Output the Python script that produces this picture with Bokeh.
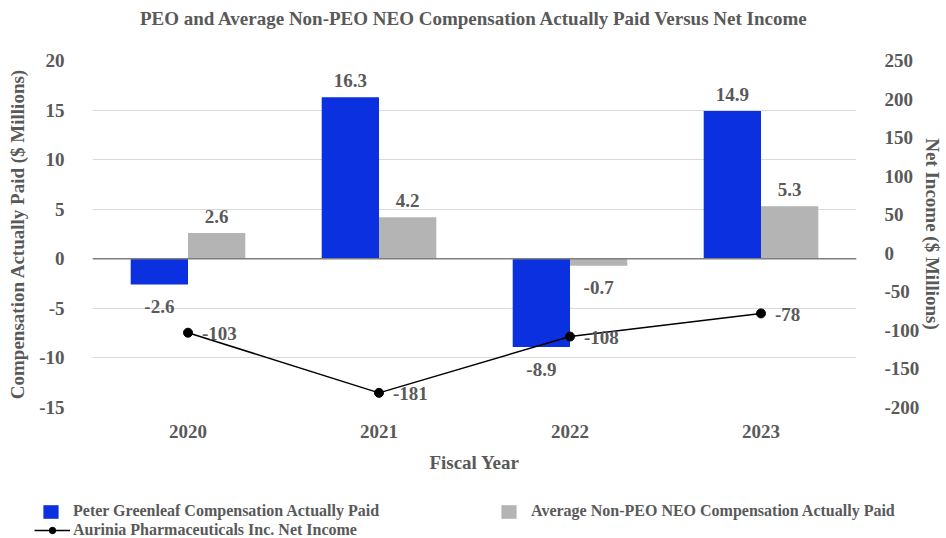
from bokeh.plotting import figure
from bokeh.models import (Range1d, LinearAxis, FactorRange, ColumnDataSource, Legend,
                          LegendItem, FixedTicker, Span, PrintfTickFormatter, Title)
from bokeh.transform import dodge
from bokeh.embed import file_html
from bokeh.resources import INLINE
from bokeh.core.properties import value

# ---------------- data ----------------
years = ["2020", "2021", "2022", "2023"]
peo_cap = [-2.6, 16.3, -8.9, 14.9]          # Peter Greenleaf CAP ($M)
neo_cap = [2.6, 4.2, -0.7, 5.3]             # Avg Non-PEO NEO CAP ($M)
net_income = [-103, -181, -108, -78]        # Net income ($M)
left_ticks = [-15, -10, -5, 0, 5, 10, 15, 20]
right_ticks = [-200, -150, -100, -50, 0, 50, 100, 150, 200, 250]

title_text = "PEO and Average Non-PEO NEO Compensation Actually Paid Versus Net Income"
peo_name = "Peter Greenleaf Compensation Actually Paid"
neo_name = "Average Non-PEO NEO Compensation Actually Paid"
ni_name = "Aurinia Pharmaceuticals Inc. Net Income"

# ---------------- style ----------------
FONT = "Liberation Serif"
TXT = "#595959"
BLUE = "#0B30E0"
GRAY = "#B4B4B4"
FS = "19px"

def lab_off(v):
    return -17 if v >= 0 else 22

src = ColumnDataSource(dict(
    year=years, peo=peo_cap, neo=neo_cap, ni=net_income,
    peo_lbl=[f"{v:.1f}" for v in peo_cap],
    neo_lbl=[f"{v:.1f}" for v in neo_cap],
    ni_lbl=[f"{v:d}" for v in net_income],
    peo_off=[lab_off(v) for v in peo_cap],
    neo_off=[lab_off(v) for v in neo_cap],
))

p = figure(width=946, height=480, x_range=FactorRange(*years), y_range=Range1d(-15, 20),
           output_backend="svg", toolbar_location=None, title=None,
           min_border_left=92, min_border_right=88, min_border_top=60, min_border_bottom=73)
p.extra_y_ranges = {"ni": Range1d(-200, 250)}
p.outline_line_color = None
p.background_fill_color = "white"
p.border_fill_color = "white"

# title (a blank spacer title sits between the frame and the real title)
spacer = Title(text=" ", text_font=FONT, text_font_size="22px", standoff=0)
p.add_layout(spacer, "above")
ttl = Title(text=title_text, align="center", text_font=FONT, text_font_size=FS,
            text_font_style="bold", text_color=TXT, standoff=10)
p.add_layout(ttl, "above")

# grid
p.xgrid.grid_line_color = None
p.ygrid.grid_line_color = "#D9D9D9"
p.ygrid.grid_line_width = 1

# axes
def style_axis(ax):
    ax.axis_line_color = None
    ax.major_tick_line_color = None
    ax.minor_tick_line_color = None
    ax.major_label_text_font = FONT
    ax.major_label_text_font_size = FS
    ax.major_label_text_font_style = "bold"
    ax.major_label_text_color = TXT
    ax.axis_label_text_font = FONT
    ax.axis_label_text_font_size = FS
    ax.axis_label_text_font_style = "bold"
    ax.axis_label_text_color = TXT

ya = p.yaxis[0]
style_axis(ya)
ya.ticker = FixedTicker(ticks=left_ticks)
ya.formatter = PrintfTickFormatter(format="%d")
ya.axis_label = "Compensation Actually Paid ($ Millions)"
ya.major_label_standoff = 22
ya.axis_label_standoff = 8

xa = p.xaxis[0]
style_axis(xa)
xa.axis_label = "Fiscal Year"
xa.major_label_standoff = 11
xa.axis_label_standoff = 11

ra = LinearAxis(y_range_name="ni", ticker=FixedTicker(ticks=right_ticks),
                formatter=PrintfTickFormatter(format="%d"),
                axis_label="Net Income ($ Millions)")
style_axis(ra)
ra.major_label_standoff = 22
ra.axis_label_standoff = 0
p.add_layout(ra, "right")

# zero line
p.add_layout(Span(location=0, dimension="width", line_color="#7F7F7F", line_width=1.5))

# bars
p.vbar(x=dodge("year", -0.15, range=p.x_range), top="peo", bottom=0, width=0.3,
       source=src, fill_color=BLUE, line_color=None)
p.vbar(x=dodge("year", 0.15, range=p.x_range), top="neo", bottom=0, width=0.3,
       source=src, fill_color=GRAY, line_color=None)

# line
p.line(x="year", y="ni", source=src, y_range_name="ni", line_color="black", line_width=1.5)
p.scatter(x="year", y="ni", source=src, y_range_name="ni", size=9,
          fill_color="black", line_color="black")

# data labels
common = dict(text_font=value(FONT), text_font_size=FS, text_font_style="bold",
              text_color=TXT)
p.text(x=dodge("year", -0.15, range=p.x_range), y="peo", text="peo_lbl", source=src,
       y_offset="peo_off", text_align="center", text_baseline="middle", **common)
p.text(x=dodge("year", 0.15, range=p.x_range), y="neo", text="neo_lbl", source=src,
       y_offset="neo_off", text_align="center", text_baseline="middle", **common)
p.text(x="year", y="ni", text="ni_lbl", source=src, y_range_name="ni",
       x_offset=14, y_offset=1, text_align="left", text_baseline="middle", **common)

# ---------------- legend strip (separate root below the chart) ----------------
lf = figure(width=946, height=58, x_range=Range1d(0, 1), y_range=Range1d(0, 1),
            output_backend="svg", toolbar_location=None, x_axis_type=None, y_axis_type=None,
            min_border=0, min_border_left=0, min_border_right=0, min_border_top=0,
            min_border_bottom=0)
lf.outline_line_color = None
lf.grid.grid_line_color = None
# swatch renderers kept outside the visible range (legend keys only)
g_peo = lf.vbar(x=[9], top=[9], bottom=[8], width=0.1, fill_color=BLUE, line_color=None)
g_neo = lf.vbar(x=[9], top=[9], bottom=[8], width=0.1, fill_color=GRAY, line_color=None)
g_line = lf.line(x=[9, 10], y=[9, 9], line_color="black", line_width=1.5)
g_pts = lf.scatter(x=[9], y=[9], size=9, fill_color="black", line_color="black")

def make_legend(items, loc, gw, gh, standoff, spacing=0):
    return Legend(items=items, location=loc, orientation="horizontal",
                  glyph_width=gw, glyph_height=gh, label_height=gh,
                  label_text_font=FONT, label_text_font_size="16px",
                  label_text_font_style="bold", label_text_color=TXT,
                  label_text_baseline="middle",
                  label_standoff=standoff, padding=0, margin=0, spacing=spacing,
                  border_line_color=None, background_fill_alpha=0)

lf.add_layout(make_legend([LegendItem(label=peo_name, renderers=[g_peo]),
                           LegendItem(label=neo_name, renderers=[g_neo])],
                          (41, 18), 19, 17, 13, spacing=120))
lf.add_layout(make_legend([LegendItem(label=ni_name, renderers=[g_line, g_pts])],
                          (34, -1), 36, 16, 3))

open("out.html", "w").write(file_html([p, lf], INLINE))
